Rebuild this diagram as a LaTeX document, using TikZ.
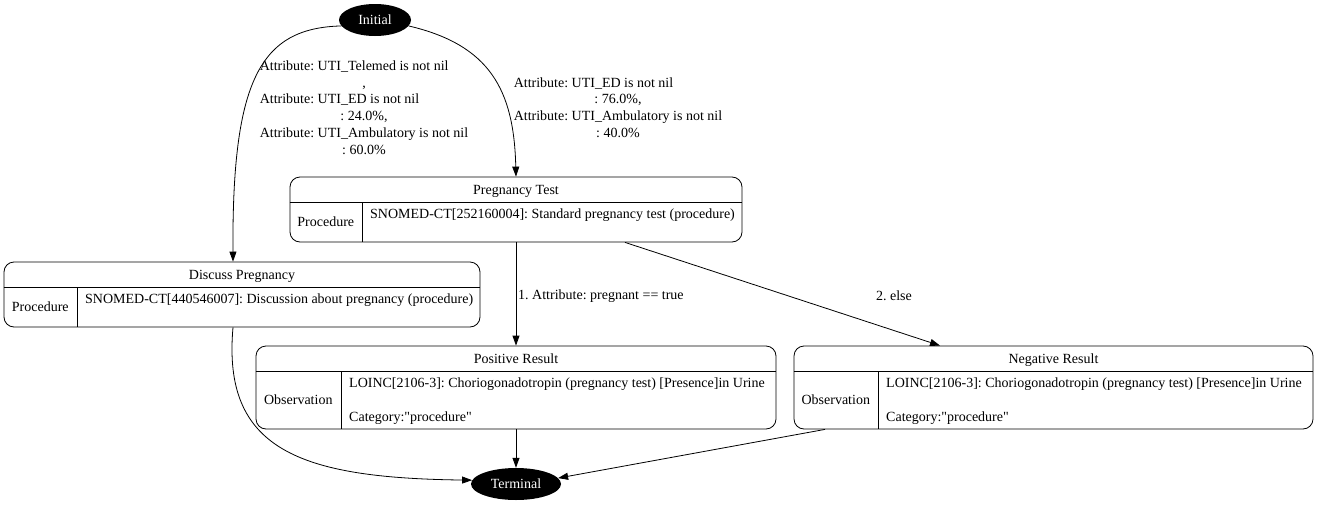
\documentclass[tikz,border=0pt]{standalone}
\usepackage{fontspec}
\setmainfont{Liberation Serif}
\usetikzlibrary{positioning, arrows.meta, shapes.geometric}
\frenchspacing

\begin{document}
\begin{tikzpicture}[
    x=1pt, y=-1pt,
    font=\fontsize{14}{16.8}\selectfont,
    >={Triangle[length=10pt,width=7pt]},
    rec/.style={rectangle, draw, rounded corners=10pt, line width=0.8pt},
    head/.style={inner sep=0pt, minimum height=25pt, text height=12pt, text depth=2pt},
    kind/.style={inner sep=0pt, anchor=north west},
    body/.style={anchor=north west, align=left, inner xsep=8pt, inner ysep=4.5pt},
    sep/.style={line width=0.8pt},
    state/.style={ellipse, fill=black, text=white, inner sep=0pt},
    arrow/.style={->, line width=0.8pt},
    lbl/.style={inner sep=0pt}
]
  \useasboundingbox (0,0) rectangle (1317,506);

  % start and end states
  \node[state, minimum width=72pt, minimum height=32pt] (init) at (375,20) {Initial};
  \node[state, minimum width=90pt, minimum height=32pt] (term) at (516,484) {Terminal};

  % pregnancy test
  \node[rec, minimum width=452pt, minimum height=65pt] (test) at (516,209.5) {};
  \node[head, below=0pt of test.north] (testhead) {Pregnancy Test};
  \draw[sep] (testhead.south -| test.west) -- (testhead.south -| test.east);
  \node[kind, minimum width=72pt, minimum height=40pt] (testkind) at (testhead.south -| test.west) {Procedure};
  \draw[sep] (testkind.north east) -- (testkind.south east);
  \node[body] (testbody) at (testkind.north east) {\strut SNOMED-CT[252160004]: Standard pregnancy test (procedure)};

  % discuss pregnancy
  \node[rec, minimum width=476pt, minimum height=65pt] (disc) at (242,294.5) {};
  \node[head, below=0pt of disc.north] (dischead) {Discuss Pregnancy};
  \draw[sep] (dischead.south -| disc.west) -- (dischead.south -| disc.east);
  \node[kind, minimum width=73pt, minimum height=40pt] (disckind) at (dischead.south -| disc.west) {Procedure};
  \draw[sep] (disckind.north east) -- (disckind.south east);
  \node[body] (discbody) at (disckind.north east) {\strut SNOMED-CT[440546007]: Discussion about pregnancy (procedure)};

  % positive result
  \node[rec, minimum width=520pt, minimum height=83pt] (pos) at (516,387.5) {};
  \node[head, below=0pt of pos.north] (poshead) {Positive Result};
  \draw[sep] (poshead.south -| pos.west) -- (poshead.south -| pos.east);
  \node[kind, minimum width=85pt, minimum height=58pt] (poskind) at (poshead.south -| pos.west) {Observation};
  \draw[sep] (poskind.north east) -- (poskind.south east);
  \node[body] (posbody) at (poskind.north east) {\strut LOINC[2106-3]: Choriogonadotropin (pregnancy test) [Presence]in Urine\\[16.8pt]Category:\textquotedbl procedure\textquotedbl};

  % negative result
  \node[rec, minimum width=519pt, minimum height=83pt] (neg) at (1053.5,387.5) {};
  \node[head, below=0pt of neg.north] (neghead) {Negative Result};
  \draw[sep] (neghead.south -| neg.west) -- (neghead.south -| neg.east);
  \node[kind, minimum width=84pt, minimum height=58pt] (negkind) at (neghead.south -| neg.west) {Observation};
  \draw[sep] (negkind.north east) -- (negkind.south east);
  \node[body] (negbody) at (negkind.north east) {\strut LOINC[2106-3]: Choriogonadotropin (pregnancy test) [Presence]in Urine\\[16.8pt]Category:\textquotedbl procedure\textquotedbl};

  % edge labels
  \node[lbl] (lblA) at (364,109) {\begin{tabular}{@{}l@{}}
    Attribute: UTI\_Telemed is not nil\\
    \multicolumn{1}{@{}c@{}}{,}\\
    Attribute: UTI\_ED is not nil\\
    \multicolumn{1}{@{}c@{}}{: 24.0\%,}\\
    Attribute: UTI\_Ambulatory is not nil\\
    \multicolumn{1}{@{}c@{}}{: 60.0\%}
  \end{tabular}};
  \node[lbl] (lblB) at (618,109) {\begin{tabular}{@{}l@{}}
    Attribute: UTI\_ED is not nil\\
    \multicolumn{1}{@{}c@{}}{: 76.0\%,}\\
    Attribute: UTI\_Ambulatory is not nil\\
    \multicolumn{1}{@{}c@{}}{: 40.0\%}
  \end{tabular}};
  \node[lbl, anchor=west] (lblpos) at (518,296) {1. Attribute: pregnant == true};
  \node[lbl] (lblneg) at (894,296) {2. else};

  % connectors
  \draw[arrow] (init.190) .. controls (260,28) and (232,80) .. ([xshift=-9pt]disc.north);
  \draw[arrow] (init.-10) .. controls (490,45) and (514,90) .. (test.north);
  \draw[arrow] (test.south) -- (pos.north);
  \draw[arrow] ([xshift=109pt]test.south) -- ([xshift=-113.5pt]neg.north);
  \draw[arrow] ([xshift=-9pt]disc.south) .. controls (222,450) and (300,478) .. (term.175);
  \draw[arrow] (pos.south) -- (term.north);
  \draw[arrow] ([xshift=-228.5pt]neg.south) -- (term.8);
\end{tikzpicture}
\end{document}
